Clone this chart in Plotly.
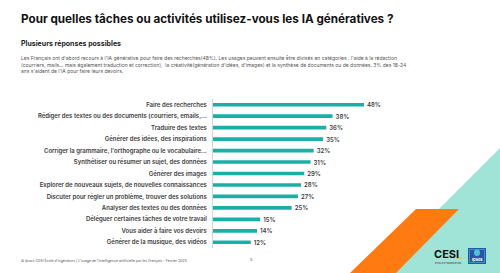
import plotly.graph_objects as go

categories = [
    "Faire des recherches",
    "Rédiger des textes ou des documents (courriers, emails,...",
    "Traduire des textes",
    "Générer des idées, des inspirations",
    "Corriger la grammaire, l'orthographe ou le vocabulaire...",
    "Synthétiser ou résumer un sujet, des données",
    "Générer des images",
    "Explorer de nouveaux sujets, de nouvelles connaissances",
    "Discuter pour régler un problème, trouver des solutions",
    "Analyser des textes ou des données",
    "Déléguer certaines tâches de votre travail",
    "Vous aider à faire vos devoirs",
    "Générer de la musique, des vidéos",
]
values = [48, 38, 36, 35, 32, 31, 29, 28, 27, 25, 15, 14, 12]

title = "Pour quelles tâches ou activités utilisez-vous les IA génératives ?"
subtitle = "Plusieurs réponses possibles"
paragraph = [
    "Les Français ont d'abord recours à l'IA générative pour faire des recherches(48%). Les usages peuvent ensuite être divisés en catégories : l'aide à la rédaction",
    "(courriers, mails… mais également traduction et correction),  la créativité(génération d'idées, d'images) et la synthèse de documents ou de données. 3% des 18-24",
    "ans s'aident de l'IA pour faire leurs devoirs.",
]
footer = "© Ipsos-CESI École d'ingénieurs | L'usage de l'intelligence artificielle par les Français - Février 2025"

W, H = 500, 273
ML, MR, MT, MB = 213, 98, 99, 25
PW, PH = W - ML - MR, H - MT - MB
FONT = "Inter"
BAR = "#1bafa7"
GREY = "#3d3d3d"


def px(x):
    return (x - ML) / PW


def py(y):
    return (H - MB - y) / PH


fig = go.Figure(
    go.Bar(
        x=values,
        y=categories,
        orientation="h",
        marker=dict(color=BAR, line=dict(width=0)),
        width=0.32,
        text=[f"\u00a0\u00a0{v}%" for v in values],
        textposition="outside",
        constraintext="none",
        textfont=dict(family=FONT, size=6, color=GREY, weight=600),
        cliponaxis=False,
    )
)

shapes = [
    dict(type="path", xref="paper", yref="paper", layer="below",
         path=f"M {px(500)} {py(148)} L {px(375)} {py(273)} L {px(500)} {py(273)} Z",
         fillcolor="#a0e4d7", line=dict(width=0)),
    dict(type="path", xref="paper", yref="paper", layer="below",
         path=f"M {px(416)} {py(209)} L {px(459)} {py(209)} L {px(396)} {py(273)} L {px(350)} {py(273)} Z",
         fillcolor="#ff7a10", line=dict(width=0)),
    # CESI underscore
    dict(type="rect", xref="paper", yref="paper",
         x0=px(456), x1=px(462), y0=py(258.5), y1=py(257.3),
         fillcolor="#f5c400", line=dict(width=0)),
    # Ipsos logo box
    dict(type="rect", xref="paper", yref="paper",
         x0=px(468), x1=px(486), y0=py(264), y1=py(248),
         fillcolor="#2b55a6", line=dict(width=0)),
    dict(type="rect", xref="paper", yref="paper",
         x0=px(469.5), x1=px(484.5), y0=py(262.5), y1=py(249.5),
         fillcolor="#2b55a6", line=dict(color="#35a8c9", width=0.8)),
    dict(type="circle", xref="paper", yref="paper",
         x0=px(474), x1=px(480), y0=py(256), y1=py(249.5),
         fillcolor="#4fc3d9", line=dict(width=0)),
]

annotations = [
    dict(text=f"<b>{title}</b>", x=px(19), y=py(19), xanchor="left", yanchor="middle",
         font=dict(family=FONT, size=11.7, color="#111111")),
    dict(text=f"<b>{subtitle}</b>", x=px(19), y=py(43.5), xanchor="left", yanchor="middle",
         font=dict(family=FONT, size=7, color="#222222")),
    dict(text="<br>".join(paragraph), x=px(19), y=py(53), xanchor="left", yanchor="top",
         align="left", font=dict(family=FONT, size=5, color="#555555")),
    dict(text=footer, x=px(19), y=py(260), xanchor="left", yanchor="middle",
         font=dict(family=FONT, size=3.5, color="#555555")),
    dict(text="5", x=px(251), y=py(259), xanchor="center", yanchor="middle",
         font=dict(family=FONT, size=4, color="#555555")),
    dict(text="<b>CESI</b>", x=px(432), y=py(254), xanchor="left", yanchor="middle",
         font=dict(family=FONT, size=11, color="#111111")),
    dict(text="ÉCOLE D'INGÉNIEURS", x=px(433), y=py(263), xanchor="left", yanchor="middle",
         font=dict(family=FONT, size=2.5, color="#333333")),
    dict(text="<b>Ipsos</b>", x=px(477), y=py(259.5), xanchor="center", yanchor="middle",
         font=dict(family=FONT, size=4, color="#ffffff")),
]
for a in annotations:
    a.update(xref="paper", yref="paper", showarrow=False)

fig.update_layout(
    width=W, height=H,
    margin=dict(l=ML, r=MR, t=MT, b=MB, pad=0),
    paper_bgcolor="white", plot_bgcolor="rgba(0,0,0,0)",
    showlegend=False,
    shapes=shapes,
    annotations=annotations,
    xaxis=dict(visible=False, range=[0, PW / (151 / 48)], fixedrange=True),
    yaxis=dict(
        autorange="reversed", showline=True, linecolor="#d4d4d4", linewidth=1,
        showgrid=False, zeroline=False, ticks="", ticklabelstandoff=4,
        tickfont=dict(family=FONT, size=6, color=GREY, weight=600),
    ),
)

fig.write_html("out.html")
